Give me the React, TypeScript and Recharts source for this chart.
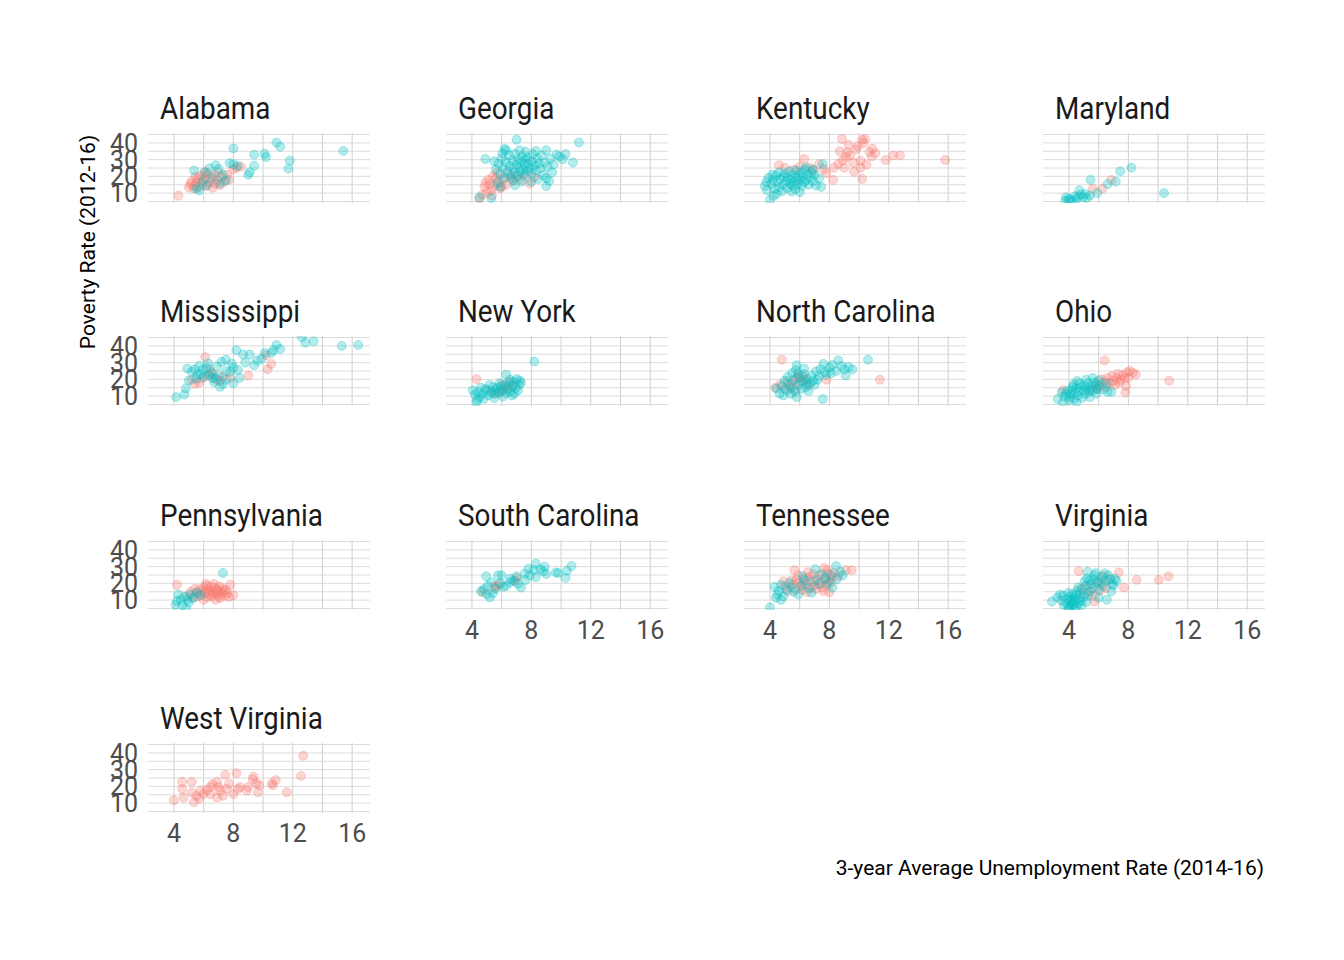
import { ScatterChart, Scatter, XAxis, YAxis, CartesianGrid } from "recharts";

type Pt = [number, number];

// axis breaks
const xTicks = [4, 6, 8, 10, 12, 14, 16];
const xLabelTicks = [4, 8, 12, 16];
const yTicks = [5, 10, 15, 20, 25, 30, 35, 40, 45];
const yLabelTicks = [10, 20, 30, 40];
const xDomain = [2.25, 17.2];
const yDomain = [4.1, 45.9];

const RED = "#F8766D";
const TEAL = "#00BFC4";

const alabamaRed: Pt[] = [
  [4.3, 8.5], [5.0, 13.5], [5.1, 15.5], [5.2, 17], [5.3, 12.8], [5.4, 14.2], [5.5, 16.3], [5.6, 18.5],
  [5.7, 13.6], [5.8, 20.2], [5.9, 15], [6.0, 17.4], [6.1, 19.5], [6.2, 14.4], [6.3, 21.8], [6.4, 16.2],
  [6.5, 18.8], [6.6, 13.2], [6.7, 20.6], [6.8, 15.6], [6.9, 17.8], [7.0, 22.4], [7.1, 14.8], [7.2, 19.6],
  [7.4, 16.8], [7.6, 21], [7.7, 18], [8.0, 24.2], [8.2, 25.2], [8.5, 25.8], [5.45, 19.8], [6.05, 22.6],
];
const alabamaTeal: Pt[] = [
  [5.35, 23.5], [5.5, 12.7], [5.7, 11.6], [6.1, 22.4], [6.4, 24.8], [6.8, 26.7], [7.1, 15.8], [7.3, 21],
  [7.0, 24.4], [7.75, 27.9], [8.0, 27.3], [8.0, 36.7], [8.3, 26.2], [9.0, 21], [9.1, 22.5], [9.4, 26.3],
  [9.4, 33], [10.1, 33.5], [10.2, 31.5], [10.9, 40.2], [11.15, 37.7], [11.7, 24.6], [11.8, 29.4],
  [15.4, 35.2], [6.6, 19.2], [5.9, 16.9], [7.5, 17.6], [6.2, 14.6],
];

const georgiaRed: Pt[] = [
  [4.5, 6.5], [4.85, 13.75], [5.1, 17.9], [5.3, 11.7], [5.4, 20], [5.6, 19], [5.0, 10.2], [4.7, 9],
  [5.2, 15.2], [5.5, 14.2], [5.8, 16.4], [5.9, 12.8], [6.1, 18.2], [6.3, 15], [6.65, 19], [6.8, 17.2],
  [7.0, 20.6], [7.3, 18.4], [7.6, 21.4], [7.9, 15.8], [8.2, 19.6], [5.7, 22.2], [6.4, 21.6], [4.9, 16.2],
  [5.35, 8.6], [6.0, 13.8],
];
const georgiaTeal: Pt[] = [
  [4.5, 7.5], [5.3, 7.1], [4.9, 30.4], [7, 41.9], [11.2, 40.2], [10.8, 28.3], [9.9, 31.9], [9.0, 35.6],
  [7.2, 35.6], [6.3, 35.6], [9, 14.2], [9, 19], [8, 16.9], [6.9, 14.8], [5.9, 13.75],
  [5.6, 24.2], [5.8, 27.6], [5.9, 21.4], [6.0, 30.8], [6.1, 25.3], [6.2, 19.2], [6.3, 28.4], [6.4, 23.1],
  [6.5, 32.6], [6.55, 26.2], [6.6, 20.4], [6.7, 29.5], [6.8, 24.7], [6.85, 22], [6.9, 33.4], [7.0, 27.1],
  [7.05, 19.8], [7.1, 30.2], [7.2, 25.6], [7.25, 22.8], [7.3, 28.8], [7.4, 32], [7.45, 24], [7.5, 20.6],
  [7.55, 26.8], [7.6, 29.9], [7.7, 23.2], [7.75, 31.4], [7.8, 27.5], [7.9, 25], [8.0, 21.8], [8.05, 29],
  [8.1, 33.2], [8.2, 26.4], [8.3, 23.6], [8.4, 30.6], [8.5, 27.8], [8.6, 24.6], [8.7, 32.4], [8.8, 20.8],
  [8.9, 28.2], [9.1, 25.8], [9.3, 30.6], [9.5, 27], [9.7, 33], [9.4, 22.4], [5.5, 29], [6.05, 33.8],
  [6.75, 17.8], [7.35, 17], [8.45, 18.4], [9.2, 17.2], [5.7, 16.2], [6.2, 36.4], [7.6, 34.8], [10.1, 30.2],
  [10.3, 33.3], [8.3, 35.2],
];

const kentuckyRed: Pt[] = [
  [15.8, 29.8], [11.8, 29.8], [12.3, 32.5], [12.75, 32.5], [10.85, 32], [10.2, 41.9], [10.3, 39.8],
  [8.85, 42.3], [9.3, 38.75], [8.7, 35], [9.8, 36], [10.1, 29.4], [10.1, 25.2], [9.65, 22.7], [10.2, 18.5],
  [9, 25.2], [8.3, 25.2], [8.25, 17.9], [7.3, 27.3], [6.3, 30.4], [4.6, 26.7], [5, 25.2], [6, 25.8],
  [6.65, 25.2], [7.8, 22], [9.1, 31.5], [10.7, 34.6], [9.4, 32.5], [9.6, 28.2], [10.5, 27], [9.9, 38],
  [8.9, 29.5], [7.6, 24.4], [5.6, 24], [6.9, 23.6], [10.9, 36.6], [11.1, 33.8], [9.2, 34.4], [8.6, 27.4],
  [10.4, 42.3],
];
const kentuckyTeal: Pt[] = [
  [4, 6], [3.65, 14.2], [3.9, 19], [4.2, 17.9], [4.9, 20], [5.8, 19], [6.4, 25.2], [6.9, 24.2],
  [7.55, 27.3], [7.45, 13.75], [6, 10.6], [4.45, 9.6], [5.35, 15.8], [6.45, 17.9], [3.8, 11.8],
  [4.1, 15.6], [4.3, 12.6], [4.4, 20.6], [4.5, 16.8], [4.6, 13.4], [4.7, 18.4], [4.8, 11.2], [4.9, 15],
  [5.0, 21.8], [5.1, 17.2], [5.15, 13], [5.2, 19.6], [5.3, 23], [5.4, 18], [5.5, 14.4], [5.55, 21],
  [5.6, 16.6], [5.7, 12.4], [5.75, 23.6], [5.85, 15.4], [5.9, 20.4], [6.0, 17.6], [6.1, 22.4],
  [6.15, 14.2], [6.2, 19.8], [6.3, 16.4], [6.35, 24], [6.5, 21.2], [6.6, 15], [6.7, 19.4], [6.8, 22.6],
  [6.9, 17.2], [7.0, 20.8], [7.1, 14.6], [7.3, 18.8], [4.25, 8.4], [4.6, 22.4], [5.45, 11], [3.75, 16.6],
  [4.15, 21],
];

const marylandRed: Pt[] = [[5.6, 12.7], [6.25, 12.7], [6.85, 17.9]];
const marylandTeal: Pt[] = [
  [3.75, 5.4], [4.05, 6.5], [4.5, 6.5], [4.95, 7.5], [5.4, 8.5], [4.7, 11.7], [5.45, 17.9], [5.9, 10],
  [6.6, 15.4], [7.15, 16.9], [7.45, 23.1], [8.2, 25.2], [10.4, 10], [4.2, 5.4], [3.8, 7.5], [5.2, 7.1],
  [4.4, 8.2], [4.8, 9.2], [5.1, 9.4], [3.95, 6.2], [4.6, 7.8],
];

const mississippiRed: Pt[] = [
  [6.1, 33.3], [5.7, 18.1], [5.2, 19.8], [7.3, 21.5], [9, 22.3], [10.3, 26], [10.55, 29.2], [10.2, 34.4],
  [6.4, 26], [6.85, 19.8], [5.9, 20.6], [6.6, 23.4], [7.1, 19.2], [5.4, 17.4], [6.3, 22], [7.8, 21],
];
const mississippiTeal: Pt[] = [
  [4.15, 9.4], [4.7, 11], [4.8, 14.6], [5, 19.4], [4.9, 26.5], [5.4, 26], [5.95, 26], [6.2, 27],
  [6.4, 22.9], [7.1, 15.6], [7.5, 31.7], [7.5, 25], [8, 27], [8.2, 37.5], [8.4, 20.8], [8.65, 34.8],
  [9.1, 34.8], [9.4, 28.5], [9.9, 32.3], [10.1, 35.8], [10.55, 35.8], [10.7, 37.5], [10.9, 40.6],
  [11.15, 38.1], [12.6, 45.2], [12.85, 41.9], [13.4, 42.7], [15.3, 40], [16.4, 40.6], [8, 17.7],
  [6.6, 20.8], [5.6, 22.9], [7.5, 19.8], [5.2, 24.6], [5.7, 28.2], [5.8, 23], [6.0, 21.4], [6.3, 29.6],
  [6.5, 24.2], [6.7, 18.4], [6.9, 27.8], [7.0, 22], [7.2, 30.4], [7.3, 17.2], [7.8, 24.6], [7.9, 29.4],
  [8.3, 25.6], [8.8, 30], [9.6, 31.2], [5.5, 20.4], [6.8, 20.6],
];

const newYorkRed: Pt[] = [
  [4.3, 20.2], [6.3, 15.6], [6.55, 18.75], [5.6, 11.5], [6.1, 14], [6.8, 16.4], [5.9, 12.6], [6.4, 13.6],
  [5.3, 13], [6.0, 17],
];
const newYorkTeal: Pt[] = [
  [8.2, 30.6], [4.3, 6.25], [4.05, 13.5], [4.5, 9.4], [5, 13.5], [5.6, 13.5], [6.3, 22.9], [6.55, 19.8],
  [7.2, 19.4], [7.1, 13.5], [6.85, 11.5], [6.1, 9.8], [5.2, 16.7], [5.85, 17.7], [4.2, 10.8], [4.4, 12.4],
  [4.6, 15], [4.7, 11.2], [4.8, 8.4], [4.9, 14.2], [5.1, 10.6], [5.3, 12.2], [5.4, 15.4], [5.5, 11.4],
  [5.7, 14.8], [5.8, 12], [5.95, 15.8], [6.05, 13.2], [6.2, 16.8], [6.3, 11.8], [6.4, 14.6], [6.5, 17.6],
  [6.6, 12.8], [6.7, 16], [6.8, 18.6], [6.95, 14.8], [7.0, 20.2], [7.2, 16.8], [7.3, 18.2], [4.35, 7.8],
  [5.5, 8.8], [6.7, 10.4],
];

const northCarolinaRed: Pt[] = [
  [4.8, 31.7], [11.4, 19.8], [7.8, 19.8], [4.35, 15], [5.35, 15.6], [5.8, 20.8], [5.2, 18.75], [5.5, 17.6],
  [6.0, 18.4], [6.2, 21.6], [5.65, 13.8], [6.4, 19.6], [5.9, 22.4], [4.7, 17], [5.0, 14.2], [6.6, 16.4],
];
const northCarolinaTeal: Pt[] = [
  [10.6, 31.7], [8.6, 31.3], [7.6, 29.2], [8, 27.1], [9, 26], [9.55, 26], [9.1, 22.3], [5.8, 28.5],
  [5.9, 23.3], [7.1, 24.8], [7.2, 19.8], [7.55, 8.3], [4.65, 11.5], [5.8, 9.4], [5.1, 13.5], [6.45, 17.7],
  [8.45, 25], [7, 16.7], [4.45, 14.6], [4.8, 16], [5.0, 19.2], [5.2, 21.4], [5.3, 17.2], [5.4, 14.6],
  [5.5, 23.8], [5.6, 19.6], [5.7, 12.6], [5.75, 25.6], [5.9, 16.8], [6.0, 21], [6.1, 14.4], [6.2, 18.8],
  [6.3, 23], [6.4, 15.2], [6.5, 20.4], [6.6, 13], [6.7, 17.6], [6.8, 22.2], [6.9, 19.2], [7.3, 21.8],
  [7.4, 26], [7.7, 24.4], [7.8, 22.8], [8.2, 28.6], [8.8, 28], [9.3, 27.4], [4.9, 10.4], [5.4, 11.4],
  [6.3, 26.4], [8.1, 23.6],
];

const ohioRed: Pt[] = [
  [6.4, 31.3], [10.75, 19.2], [8.1, 25], [8.5, 22.9], [7.75, 20.8], [7.8, 12.1], [7.2, 20.8], [6.6, 20.8],
  [6.75, 17.7], [6.4, 18.75], [7.85, 16], [3.6, 13.5], [5.4, 13.5], [6.05, 15.6], [7.0, 19], [7.4, 18.2],
  [7.6, 22.6], [7.9, 24.2], [8.3, 24], [7.1, 16.6], [6.9, 22], [6.2, 20], [5.8, 17.2], [7.5, 19.8],
  [8.0, 21], [6.5, 15.4], [5.9, 14.4], [7.3, 23.2],
];
const ohioTeal: Pt[] = [
  [3.25, 8.3], [3.6, 6.25], [3.8, 11.5], [4.25, 15.6], [4.7, 17.7], [5.15, 19.8], [5.6, 20.8], [5.85, 11.5],
  [6.85, 12.5], [4.5, 6.25], [4.05, 9.4], [5.4, 9.4], [3.7, 9.8], [3.9, 13.2], [4.0, 7.6], [4.1, 11],
  [4.2, 13.8], [4.35, 8.4], [4.4, 12], [4.5, 14.6], [4.6, 10.2], [4.7, 12.8], [4.8, 15.8], [4.9, 9],
  [5.0, 13.6], [5.05, 16.6], [5.1, 11.4], [5.2, 14.6], [5.3, 17.8], [5.35, 12.6], [5.5, 15.4], [5.6, 13.2],
  [5.7, 18.2], [5.8, 16], [5.9, 14.2], [6.0, 19.4], [6.1, 16.8], [6.3, 14], [6.5, 17.4], [6.6, 12.6],
  [4.3, 17], [3.5, 12.2], [4.55, 19],
];

const pennsylvaniaRed: Pt[] = [
  [4.2, 19.2], [7.8, 19.2], [8, 12.9], [6.2, 18.5], [6.45, 15.4], [6.9, 16.5], [7.1, 11.25], [5.8, 13.3],
  [6.7, 19.6], [7.35, 15.4], [6, 10.2], [5.3, 11.7], [6.8, 10.2], [5.5, 14.6], [5.6, 12.2], [5.7, 16.4],
  [5.9, 15.2], [6.0, 17.4], [6.1, 13.8], [6.25, 11.6], [6.3, 16], [6.4, 13.2], [6.5, 18], [6.55, 12.4],
  [6.6, 14.6], [6.75, 17.2], [6.85, 13.6], [7.0, 15], [7.05, 18.2], [7.2, 13.8], [7.3, 17], [7.45, 12.6],
  [7.5, 16.2], [7.6, 14.2], [7.7, 11.8], [5.4, 16.8], [5.1, 14.8], [4.9, 12.2], [6.15, 19.8], [7.0, 12.2],
];
const pennsylvaniaTeal: Pt[] = [
  [7.3, 26.25], [4.1, 7.1], [4.45, 10.2], [4.8, 5], [4.9, 10.2], [5.1, 13.3], [5.55, 14.4], [4.3, 13.3],
  [4.55, 7.1], [4.7, 12], [5.3, 11.2], [5.0, 8.6], [5.8, 13], [4.2, 9.4],
];

const southCarolinaRed: Pt[] = [[5.6, 18.5], [7, 23.1], [5.5, 17.4], [5.8, 19.2], [4.7, 14.8], [6.9, 21.4]];
const southCarolinaTeal: Pt[] = [
  [10.7, 30.4], [10.3, 23.3], [9.65, 26.5], [8.9, 30], [8.3, 31.7], [8.15, 27.9], [7.55, 25.8], [7, 24.2],
  [6.55, 20.6], [6, 24.8], [5.75, 24.8], [4.95, 24.2], [4.6, 15.4], [5.2, 11.7], [5.05, 18.5], [7.3, 17.5],
  [6.3, 18.5], [8.3, 23.75], [5.4, 14], [5.6, 16.8], [5.9, 20], [6.1, 18], [6.8, 21.6], [7.1, 19.8],
  [7.6, 22], [7.9, 24.8], [8.6, 28.6], [9.0, 25.6], [9.8, 26.2], [10.4, 27.6], [5.3, 20.6], [6.6, 22.8],
  [4.8, 16.6], [5.0, 13.4], [7.8, 28.8], [8.8, 27.2],
];

const tennesseeRed: Pt[] = [
  [5.65, 27.9], [9.1, 27.9], [9.5, 27.9], [7.85, 27.9], [5.9, 24.8], [6.6, 23.75], [7.3, 24.8], [7.6, 15.4],
  [8, 21.7], [5.2, 15.4], [6.1, 18.5], [6.8, 17.5], [5.45, 21.7], [8.2, 23.75], [5.0, 18.2], [5.5, 19.4],
  [5.7, 16.4], [5.8, 22.2], [6.0, 20.4], [6.2, 16.2], [6.3, 22.8], [6.4, 19.2], [6.5, 14.8], [6.7, 21],
  [6.9, 25.4], [7.0, 18.8], [7.1, 16.6], [7.2, 22], [7.4, 20.2], [7.5, 17.6], [7.7, 23.2], [7.8, 19],
  [7.9, 25.8], [8.1, 20.4], [8.3, 26.4], [8.6, 24.4], [8.0, 14.6], [6.55, 26.6], [4.9, 21.2], [7.65, 29.2],
];
const tennesseeTeal: Pt[] = [
  [4, 5.6], [4.3, 17.9], [4.75, 19], [4.5, 13.3], [4.75, 10.2], [7.05, 28.5], [8.45, 30.4], [8.75, 26.9],
  [8.9, 24.8], [6.8, 14.4], [8.2, 17.5], [5.9, 13.3], [7.75, 22.7], [7.3, 19.6], [6.35, 21.7], [5.45, 17.5],
  [4.6, 15.6], [4.9, 12.2], [5.1, 16.2], [5.3, 20.4], [5.6, 15], [6.1, 18.6], [6.6, 17.2], [7.0, 22],
  [7.5, 25.4], [7.9, 20.2], [8.1, 25.2], [8.5, 22.4], [6.2, 24.2], [4.4, 11.4],
];

const virginiaRed: Pt[] = [
  [4.65, 27.3], [7.35, 26.5], [8.55, 22.1], [10.05, 22.1], [10.7, 24.2], [7.7, 17.5], [5.7, 9.2],
  [5.5, 15.4], [5, 13.3], [6.2, 19.6], [5.9, 21], [6.5, 17.2], [5.3, 18.4], [6.1, 15.6], [4.8, 16.8],
  [6.8, 22.6], [6.3, 24.4], [5.6, 12.6],
];
const virginiaTeal: Pt[] = [
  [2.85, 9.2], [3.4, 13.3], [4, 6], [4.35, 11.25], [4.8, 9.2], [5.25, 26.9], [5.7, 24.8], [6.2, 23.75],
  [6.65, 24.8], [6.9, 19.6], [6.55, 10.2], [5.5, 19.6], [4.6, 17.5], [3.65, 7.1], [4.35, 5], [7.1, 22.7],
  [3.2, 11.6], [3.5, 9.8], [3.6, 12.6], [3.8, 8.2], [3.9, 10.6], [3.95, 14.2], [4.0, 5.2], [4.05, 12],
  [4.1, 8.6], [4.15, 6.6], [4.2, 10.2], [4.25, 13.6], [4.3, 7.6], [4.4, 9.6], [4.45, 12.8], [4.5, 6.2],
  [4.55, 15.4], [4.6, 8], [4.7, 11], [4.75, 13.8], [4.85, 6.8], [4.9, 16.4], [5.0, 12], [5.05, 21.2],
  [5.1, 18.6], [5.2, 23], [5.35, 15], [5.4, 21.8], [5.6, 17], [5.65, 22.6], [5.8, 26.2], [5.9, 20.4],
  [6.0, 16.6], [6.1, 21.2], [6.3, 18.4], [6.4, 26], [6.5, 21.6], [6.75, 22.4], [6.85, 15.2], [7.0, 18.8],
  [7.2, 21.4], [5.3, 12.6], [5.15, 9], [6.0, 11.4],
];

const westVirginiaRed: Pt[] = [
  [4, 11.7], [4.55, 22.7], [5.2, 22.7], [4.55, 18.5], [4.65, 13.3], [5.35, 10.6], [5.2, 16.5], [5.8, 17.5],
  [6, 15.4], [6.45, 19.6], [6.9, 22.7], [7.1, 17.5], [7.45, 26.9], [8.2, 27.9], [7.55, 18.5], [8, 15.4],
  [8.45, 19.6], [9, 19.6], [9.35, 25.8], [9.55, 21.7], [9.65, 16.5], [9.75, 20.6], [10.65, 20.6],
  [10.85, 23.75], [11.6, 16.5], [12.55, 26.25], [12.7, 38.3], [8.9, 17.5], [6.9, 13.3], [6.45, 15.4],
  [5.5, 14.2], [5.7, 12.8], [6.2, 17.8], [6.6, 21.2], [7.0, 19.6], [7.3, 14.4], [7.7, 21.4], [8.3, 18.4],
  [9.3, 24.2], [10.6, 21.8],
];
const westVirginiaTeal: Pt[] = [];

const states = [
  { name: "Alabama", red: alabamaRed, teal: alabamaTeal },
  { name: "Georgia", red: georgiaRed, teal: georgiaTeal },
  { name: "Kentucky", red: kentuckyRed, teal: kentuckyTeal },
  { name: "Maryland", red: marylandRed, teal: marylandTeal },
  { name: "Mississippi", red: mississippiRed, teal: mississippiTeal },
  { name: "New York", red: newYorkRed, teal: newYorkTeal },
  { name: "North Carolina", red: northCarolinaRed, teal: northCarolinaTeal },
  { name: "Ohio", red: ohioRed, teal: ohioTeal },
  { name: "Pennsylvania", red: pennsylvaniaRed, teal: pennsylvaniaTeal },
  { name: "South Carolina", red: southCarolinaRed, teal: southCarolinaTeal },
  { name: "Tennessee", red: tennesseeRed, teal: tennesseeTeal },
  { name: "Virginia", red: virginiaRed, teal: virginiaTeal },
  { name: "West Virginia", red: westVirginiaRed, teal: westVirginiaTeal },
];

const FONT = "Roboto, 'Noto Sans', sans-serif";
const colLeft = [148, 446, 744, 1043];
const rowTop = [133, 336, 540, 743];
const PW = 222;
const PH = 70;
const YW = 60;
const XH = 40;
const MT = 10;
const MR = 10;

const toObj = (pts: Pt[]) => pts.map(([x, y]) => ({ x, y }));

const dot = (color: string) => (props: any) => (
  <circle
    cx={props.cx}
    cy={props.cy}
    r={4.5}
    fill={color}
    fillOpacity={0.3}
    stroke={color}
    strokeOpacity={0.3}
    strokeWidth={1}
  />
);

function Panel({ idx }: { idx: number }) {
  const s = states[idx];
  const col = idx % 4;
  const row = Math.floor(idx / 4);
  const showY = col === 0;
  const showX = idx >= 9;
  const left = colLeft[col];
  const top = rowTop[row];
  const tickStyle = { fill: "#4d4d4d", fontSize: 25, fontFamily: FONT };
  return (
    <>
      <div
        style={{
          position: "absolute",
          left: left + 12,
          top: top - 43,
          fontFamily: FONT,
          fontSize: 32,
          color: "#1a1a1a",
          whiteSpace: "nowrap",
          transform: "scaleX(0.87)",
          transformOrigin: "left top",
          lineHeight: "36px",
        }}
      >
        {s.name}
      </div>
      <div style={{ position: "absolute", left: left - YW, top: top - MT }}>
        <ScatterChart
          width={YW + PW + MR}
          height={MT + PH + XH}
          margin={{ top: MT, right: MR, bottom: 0, left: 0 }}
        >
          <CartesianGrid horizontal={false} syncWithTicks stroke="#cfcfcf" strokeWidth={1} />
          <CartesianGrid vertical={false} syncWithTicks stroke="#dcdcdc" strokeWidth={1} />
          <XAxis
            type="number"
            dataKey="x"
            domain={xDomain}
            allowDataOverflow
            ticks={xTicks}
            interval={0}
            height={XH}
            axisLine={false}
            tickLine={false}
            tickSize={6}
            tickMargin={5}
            tick={tickStyle}
            tickFormatter={(v: number) => (showX && xLabelTicks.includes(v) ? String(v) : "")}
          />
          <YAxis
            type="number"
            dataKey="y"
            domain={yDomain}
            allowDataOverflow
            ticks={yTicks}
            interval={0}
            width={YW}
            axisLine={false}
            tickLine={false}
            tickSize={6}
            tickMargin={4}
            tick={tickStyle}
            tickFormatter={(v: number) => (showY && yLabelTicks.includes(v) ? String(v) : "")}
          />
          <Scatter data={toObj(s.red)} shape={dot(RED)} isAnimationActive={false} />
          <Scatter data={toObj(s.teal)} shape={dot(TEAL)} isAnimationActive={false} />
        </ScatterChart>
      </div>
    </>
  );
}

export default function App() {
  return (
    <div
      style={{
        position: "absolute",
        left: 0,
        top: 0,
        width: 1344,
        height: 960,
        background: "#ffffff",
        overflow: "hidden",
      }}
    >
      {states.map((s, i) => (
        <Panel key={s.name} idx={i} />
      ))}
      <div
        style={{
          position: "absolute",
          left: 88,
          top: 242,
          transform: "translate(-50%, -50%) rotate(-90deg)",
          fontFamily: FONT,
          fontSize: 21,
          color: "#000",
          whiteSpace: "nowrap",
        }}
      >
        Poverty Rate (2012-16)
      </div>
      <div
        style={{
          position: "absolute",
          right: 1344 - 1264,
          top: 856,
          fontFamily: FONT,
          fontSize: 21,
          color: "#000",
          whiteSpace: "nowrap",
        }}
      >
        3-year Average Unemployment Rate (2014-16)
      </div>
    </div>
  );
}
